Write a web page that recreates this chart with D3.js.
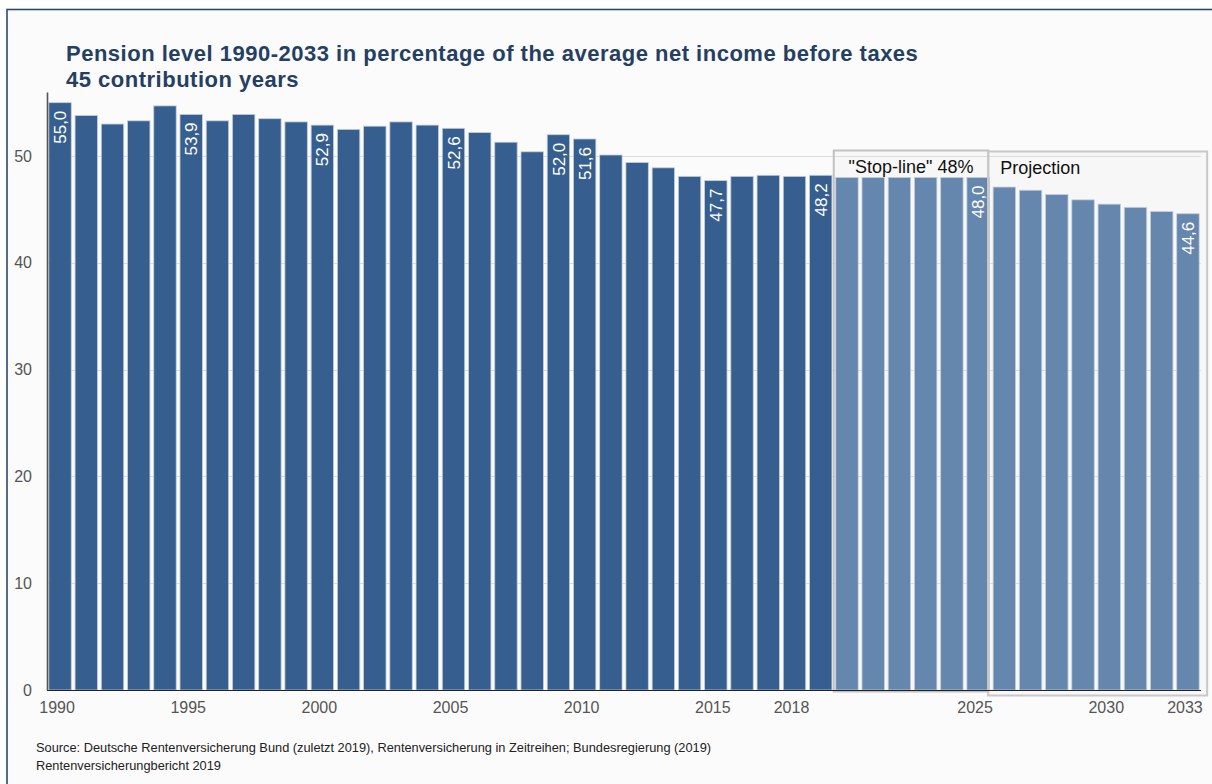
<!DOCTYPE html>
<html>
<head>
<meta charset="utf-8">
<script src="https://cdn.jsdelivr.net/npm/d3@7"></script>
<style>
  html, body { margin: 0; padding: 0; background: #ffffff; }
  svg { display: block; font-family: "Liberation Sans", Arial, sans-serif; }
</style>
</head>
<body>
<svg id="chart" width="1212" height="784"></svg>
<script>
// ---- data ----
const years = d3.range(1990, 2034);
const values = [
  55.0, 53.8, 53.0, 53.3, 54.7, 53.9, 53.3, 53.9, 53.5, 53.2,
  52.9, 52.5, 52.8, 53.2, 52.9, 52.6, 52.2, 51.3, 50.4, 52.0,
  51.6, 50.1, 49.4, 48.9, 48.1, 47.7, 48.1, 48.2, 48.1, 48.2,
  48.0, 48.0, 48.0, 48.0, 48.0, 48.0,
  47.1, 46.8, 46.4, 45.9, 45.5, 45.2, 44.8, 44.6
];
const labelYears = [1990, 1995, 2000, 2005, 2009, 2010, 2015, 2019, 2025, 2033];
const labelTexts = ["55,0", "53,9", "52,9", "52,6", "52,0", "51,6", "47,7", "48,2", "48,0", "44,6"];
const xTickYears = [1990, 1995, 2000, 2005, 2010, 2015, 2018, 2025, 2030, 2033];
const yTicks = [0, 10, 20, 30, 40, 50];
const lastHistoricYear = 2019;
const stopLineYears = [2020, 2025];
const projectionYears = [2026, 2033];
const titleLines = [
  "Pension level 1990-2033 in percentage of the average net income before taxes",
  "45 contribution years"
];
const sourceLines = [
  "Source: Deutsche Rentenversicherung Bund (zuletzt 2019), Rentenversicherung in Zeitreihen; Bundesregierung (2019)",
  "Rentenversicherungbericht 2019"
];
const boxLabels = ["\"Stop-line\" 48%", "Projection"];

// ---- layout ----
const svg = d3.select("#chart");
const x0 = 47, x1 = 1201, yBase = 690, yTop = 92;

const data = years.map((y, i) => ({ year: y, value: values[i] }));

const x = d3.scaleBand().domain(years).range([x0, x1]).paddingInner(0.145).paddingOuter(0.07);
const y = d3.scaleLinear().domain([0, 56]).range([yBase, yTop]);
const bw = x.bandwidth();

// panel
svg.append("rect").attr("x", 7).attr("y", 9.5).attr("width", 1230).attr("height", 800)
  .attr("fill", "#fbfbfb").attr("stroke", "#2c4a6e").attr("stroke-width", 1.6);

// box fills
const stopBox = { x: x(stopLineYears[0]) - 2, x2: x(stopLineYears[1]) + bw - 1, y: 150.5, y2: 691.5 };
const projBox = { x: x(projectionYears[0]) - 5, x2: x(projectionYears[1]) + bw + 8, y: 151.5, y2: 695.5 };
[stopBox, projBox].forEach(b => {
  svg.append("rect").attr("x", b.x).attr("y", b.y).attr("width", b.x2 - b.x).attr("height", b.y2 - b.y)
    .attr("fill", "#f7f7f7");
});

// gridlines
svg.append("g").selectAll("line").data(yTicks.filter(d => d > 0)).join("line")
  .attr("x1", x0).attr("x2", x1)
  .attr("y1", d => Math.round(y(d)) + 0.5).attr("y2", d => Math.round(y(d)) + 0.5)
  .attr("stroke", "#dcdcdc").attr("stroke-width", 1);

// bars
svg.append("g").selectAll("rect").data(data).join("rect")
  .attr("x", d => x(d.year))
  .attr("y", d => y(d.value))
  .attr("width", bw)
  .attr("height", d => yBase - y(d.value))
  .attr("fill", d => d.year <= lastHistoricYear ? "#365f8f" : "#6586ad")
  .attr("stroke", "#c4cfdd").attr("stroke-width", 0.8);

// box outlines
[[stopBox, "#c2c2c2"], [projBox, "#c8c8c8"]].forEach(([b, c]) => {
  svg.append("rect").attr("x", b.x).attr("y", b.y).attr("width", b.x2 - b.x).attr("height", b.y2 - b.y)
    .attr("fill", "none").attr("stroke", c).attr("stroke-width", 2);
});

// x axis baseline
svg.append("line").attr("x1", x0).attr("x2", x1).attr("y1", yBase + 0.5).attr("y2", yBase + 0.5)
  .attr("stroke", "#222").attr("stroke-width", 1.2);

// y axis
const yAxis = d3.axisLeft(y).tickValues(yTicks).tickSize(0).tickPadding(15).tickFormat(d3.format("d"));
const gy = svg.append("g").attr("transform", `translate(${x0},0)`).call(yAxis);
gy.select(".domain").attr("stroke", "#555").attr("stroke-width", 1.6);
gy.selectAll("text").attr("fill", "#555").attr("font-size", 16).attr("font-family", "Liberation Sans, Arial, sans-serif");

// x axis labels
const xAxis = d3.axisBottom(x).tickValues(xTickYears).tickSize(0).tickPadding(12);
const gx = svg.append("g").attr("transform", `translate(-3,${yBase})`).call(xAxis);
gx.select(".domain").remove();
gx.selectAll("text").attr("fill", "#555").attr("font-size", 16).attr("font-family", "Liberation Sans, Arial, sans-serif");

// bar value labels
const valueLabels = labelYears.map((yr, i) => ({ year: yr, text: labelTexts[i], value: values[years.indexOf(yr)] }));
svg.append("g").selectAll("text").data(valueLabels).join("text")
  .attr("transform", d => `translate(${x(d.year) + bw / 2},${y(d.value) + 8}) rotate(-90)`)
  .attr("text-anchor", "end").attr("dy", "0.36em")
  .attr("fill", "#ffffff").attr("font-size", 17)
  .text(d => d.text);

// box labels
svg.append("text").attr("x", (stopBox.x + stopBox.x2) / 2).attr("y", 173).attr("text-anchor", "middle")
  .attr("font-size", 18).attr("fill", "#111").text(boxLabels[0]);
svg.append("text").attr("x", projBox.x + 12).attr("y", 174)
  .attr("font-size", 18).attr("fill", "#111").text(boxLabels[1]);

// title
svg.append("g").selectAll("text").data(titleLines).join("text")
  .attr("x", 66).attr("y", (d, i) => 61 + i * 25.5)
  .attr("font-size", 22).attr("font-weight", "bold").attr("fill", "#253f63")
  .attr("letter-spacing", 0.5)
  .text(d => d);

// source
svg.append("g").selectAll("text").data(sourceLines).join("text")
  .attr("x", 36).attr("y", (d, i) => 752 + i * 18)
  .attr("font-size", 12.8).attr("fill", "#222")
  .text(d => d);
</script>
</body>
</html>
